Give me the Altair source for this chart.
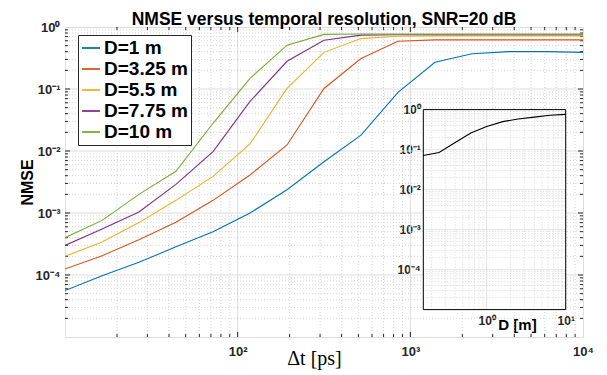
import altair as alt
import pandas as pd

# ---------------- data ----------------
dt_ps = [10, 16.4, 26.8, 43.9, 72.0, 117.9, 193.1, 316.2, 517.9, 848.3,
         1389.5, 2275.8, 3727.6, 6105.4, 10000]
series_names = ["D=1 m", "D=3.25 m", "D=5.5 m", "D=7.75 m", "D=10 m"]
nmse_d1 = [5.6e-5, 9.7e-5, 1.6e-4, 2.85e-4, 5.0e-4, 1.0e-3, 2.37e-3, 6.7e-3,
           0.018, 0.088, 0.27, 0.37, 0.40, 0.40, 0.39]
nmse_d325 = [1.25e-4, 2.05e-4, 3.7e-4, 7.1e-4, 1.6e-3, 4.1e-3, 0.0125, 0.102,
             0.31, 0.59, 0.62, 0.62, 0.62, 0.62, 0.62]
nmse_d55 = [2.0e-4, 3.4e-4, 7.0e-4, 1.6e-3, 3.9e-3, 0.013, 0.102, 0.39,
            0.65, 0.71, 0.72, 0.72, 0.72, 0.72, 0.72]
nmse_d775 = [3.0e-4, 5.5e-4, 1.04e-3, 2.9e-3, 9.8e-3, 0.063, 0.28, 0.61,
             0.74, 0.75, 0.75, 0.75, 0.75, 0.75, 0.75]
nmse_d10 = [4.0e-4, 7.6e-4, 2.0e-3, 4.7e-3, 0.028, 0.148, 0.51, 0.76,
            0.77, 0.77, 0.77, 0.77, 0.77, 0.77, 0.77]
colors = ["#0072BD", "#D95319", "#EDB120", "#7E2F8E", "#77AC30"]

x_major = [100, 1000, 10000]
y_major = [1e-4, 1e-3, 1e-2, 1e-1, 1]
X_DOMAIN = [10, 10000]
Y_DOMAIN = [1e-5, 1]

inset_D = [0.158, 0.25, 0.4, 0.63, 1.0, 1.6, 2.5, 4.0, 6.3, 10]
inset_nmse = [0.071, 0.085, 0.15, 0.26, 0.38, 0.5, 0.58, 0.65, 0.72, 0.76]
INSET_X_DOMAIN = [0.158, 10]
INSET_Y_DOMAIN = [1e-5, 1]
inset_x_labels = [1, 10]

# grid / tick positions
x_minor = [k * 10.0 ** e for e in (1, 2, 3) for k in range(2, 10)]
y_minor = [k * 10.0 ** e for e in (-5, -4, -3, -2, -1) for k in range(2, 10)]
inset_x_minor = [k * 10.0 ** e for e in (-1, 0) for k in range(2, 10)]

W, H = 518, 310
FONT = "Liberation Sans"
AX = "#262626"
GRID = "#dcdcdc"
MINOR = "#c4c4c4"

rows = []
for name, vals in zip(series_names, [nmse_d1, nmse_d325, nmse_d55, nmse_d775, nmse_d10]):
    for t, v in zip(dt_ps, vals):
        rows.append({"dt": t, "nmse": v, "series": name})
df = pd.DataFrame(rows)

y_expr = ("datum.value > 0.5 ? '10⁰' : datum.value > 0.05 ? '10⁻¹' : "
          "datum.value > 0.005 ? '10⁻²' : datum.value > 0.0005 ? '10⁻³' : '10⁻⁴'")
x_expr = "datum.value > 5000 ? '10⁴' : datum.value > 500 ? '10³' : '10²'"

xscale = alt.Scale(type="log", domain=X_DOMAIN, nice=False)
yscale = alt.Scale(type="log", domain=Y_DOMAIN, nice=False)

xaxis = alt.Axis(orient="bottom", values=x_major, labelExpr=x_expr, title="Δt [ps]",
                 titleFont="Liberation Serif", titleFontSize=20, titleFontWeight="normal",
                 titleColor="black", titleX=249, titleY=21, titleBaseline="middle",
                 grid=False, ticks=False, domain=False, labelFont=FONT,
                 labelFontWeight="bold", labelFontSize=13, labelColor=AX,
                 labelPadding=8, labelFlush=False, labelOverlap=False)
yaxis = alt.Axis(orient="left", values=y_major, labelExpr=y_expr, title="NMSE",
                 titleFont=FONT, titleFontSize=16, titleFontWeight="bold",
                 titleColor="black", titleX=-38, titleY=155, titleBaseline="middle",
                 grid=False, ticks=False, domain=False, labelFont=FONT,
                 labelFontWeight="bold", labelFontSize=13, labelColor=AX,
                 labelPadding=5, labelFlush=False, labelOverlap=False)


def X(field):
    return alt.X(field, type="quantitative", scale=xscale, axis=xaxis)


def Y(field):
    return alt.Y(field, type="quantitative", scale=yscale, axis=yaxis)


def vals(v):
    return pd.DataFrame({"v": v})


major_xgrid = alt.Chart(vals([100, 1000])).mark_rule(color=GRID, strokeWidth=1).encode(x=X("v"))
minor_xgrid = alt.Chart(vals(x_minor)).mark_rule(color=MINOR, strokeWidth=0.7, strokeDash=[1, 2]).encode(x=X("v"))
major_ygrid = alt.Chart(vals([1e-4, 1e-3, 1e-2, 1e-1])).mark_rule(color=GRID, strokeWidth=1).encode(y=Y("v"))
minor_ygrid = alt.Chart(vals(y_minor)).mark_rule(color=MINOR, strokeWidth=0.7, strokeDash=[1, 2]).encode(y=Y("v"))


def xticks(values, length):
    d = vals(values)
    b = alt.Chart(d).mark_rule(color=AX, strokeWidth=1).encode(
        x=X("v"), y=alt.value(H), y2=alt.value(H - length))
    t = alt.Chart(d).mark_rule(color=AX, strokeWidth=1).encode(
        x=X("v"), y=alt.value(0), y2=alt.value(length))
    return [b, t]


def yticks(values, length):
    d = vals(values)
    l = alt.Chart(d).mark_rule(color=AX, strokeWidth=1).encode(
        y=Y("v"), x=alt.value(0), x2=alt.value(length))
    r = alt.Chart(d).mark_rule(color=AX, strokeWidth=1).encode(
        y=Y("v"), x=alt.value(W), x2=alt.value(W - length))
    return [l, r]


lines = alt.Chart(df).mark_line(strokeWidth=1.1, clip=True).encode(
    x=X("dt"), y=Y("nmse"),
    color=alt.Color("series:N", sort=series_names,
                    scale=alt.Scale(domain=series_names, range=colors),
                    legend=alt.Legend(title=None, orient="none", legendX=13, legendY=8,
                                      symbolType="stroke", symbolSize=320,
                                      symbolStrokeWidth=1.8, labelFont=FONT,
                                      labelFontSize=19, labelFontWeight="bold",
                                      labelColor="black", strokeColor=AX,
                                      fillColor="white", padding=3, rowPadding=1,
                                      labelOffset=3, labelLimit=300)),
)

main = alt.layer(
    major_xgrid, minor_xgrid, major_ygrid, minor_ygrid,
    *xticks([100, 1000], 5), *xticks(x_minor, 3),
    *yticks([1e-4, 1e-3, 1e-2, 1e-1], 5), *yticks(y_minor, 3),
    lines,
)

# ---------------- inset ----------------
ixscale = alt.Scale(type="log", domain=INSET_X_DOMAIN, range=[358.3, 500.7], nice=False)
iyscale = alt.Scale(type="log", domain=INSET_Y_DOMAIN, range=[282.6, 82.6], nice=False)
ixaxis = alt.Axis(orient="bottom", offset=-27.7, values=inset_x_labels,
                  labelExpr="datum.value > 5 ? '10¹' : '10⁰'",
                  title="D [m]", titleX=452, titleY=15, titleBaseline="middle",
                  titleFont=FONT, titleFontSize=15, titleFontWeight="bold", titleColor="black",
                  grid=False, ticks=False, domain=False, labelFont=FONT,
                  labelFontWeight="bold", labelFontSize=12, labelColor=AX,
                  labelPadding=6, labelFlush=False, labelOverlap=False)
iyaxis = alt.Axis(orient="left", offset=-358.3, values=y_major, labelExpr=y_expr,
                  title=None, grid=False, ticks=False, domain=False, labelFont=FONT,
                  labelFontWeight="bold", labelFontSize=12, labelColor=AX,
                  labelPadding=3, labelFlush=False, labelOverlap=False)


def IX(field):
    return alt.X(field, type="quantitative", scale=ixscale, axis=ixaxis)


def IY(field):
    return alt.Y(field, type="quantitative", scale=iyscale, axis=iyaxis)


frame_df = pd.DataFrame({"x1": [INSET_X_DOMAIN[0]], "x2": [INSET_X_DOMAIN[1]],
                         "y1": [INSET_Y_DOMAIN[0]], "y2": [INSET_Y_DOMAIN[1]]})
inset_bg = alt.Chart(frame_df).mark_rect(fill="white").encode(
    x=IX("x1"), x2="x2", y=IY("y1"), y2="y2")
inset_frame = alt.Chart(frame_df).mark_rect(fill="white", fillOpacity=0, stroke="black",
                                            strokeWidth=1).encode(
    x=IX("x1"), x2="x2", y=IY("y1"), y2="y2")


def ivgrid(values, major):
    d = pd.DataFrame({"v": values, "lo": INSET_Y_DOMAIN[0], "hi": INSET_Y_DOMAIN[1]})
    m = alt.Chart(d).mark_rule(color=GRID if major else MINOR,
                               strokeWidth=1 if major else 0.7,
                               strokeDash=[1, 0] if major else [1, 2])
    return m.encode(x=IX("v"), y=IY("lo"), y2="hi")


def ihgrid(values, major):
    d = pd.DataFrame({"v": values, "lo": INSET_X_DOMAIN[0], "hi": INSET_X_DOMAIN[1]})
    m = alt.Chart(d).mark_rule(color=GRID if major else MINOR,
                               strokeWidth=1 if major else 0.7,
                               strokeDash=[1, 0] if major else [1, 2])
    return m.encode(y=IY("v"), x=IX("lo"), x2="hi")


inset_df = pd.DataFrame({"D": inset_D, "nmse": inset_nmse})
inset_line = alt.Chart(inset_df).mark_line(color="black", strokeWidth=1.1).encode(
    x=IX("D"), y=IY("nmse"))

inset = alt.layer(
    inset_bg,
    ivgrid(inset_x_minor, False), ihgrid(y_minor, False),
    ivgrid([1], True), ihgrid([1e-4, 1e-3, 1e-2, 1e-1], True),
    inset_line, inset_frame,
)

chart = alt.layer(main, inset).resolve_scale(
    x="independent", y="independent", color="independent"
).properties(
    width=W, height=H,
    autosize=alt.AutoSizeParams(type="none"),
    padding={"left": 65, "top": 27, "right": 24, "bottom": 38},
    title=alt.TitleParams("NMSE versus temporal resolution, SNR=20 dB", font=FONT,
                          fontSize=17.5, fontWeight="bold", color="black",
                          anchor="middle", frame="group", offset=0, dy=7),
).configure_view(stroke=AX, strokeWidth=1, fill="white").configure(background="white")

chart.save("out.html", embed_options={"renderer": "svg", "actions": False})
